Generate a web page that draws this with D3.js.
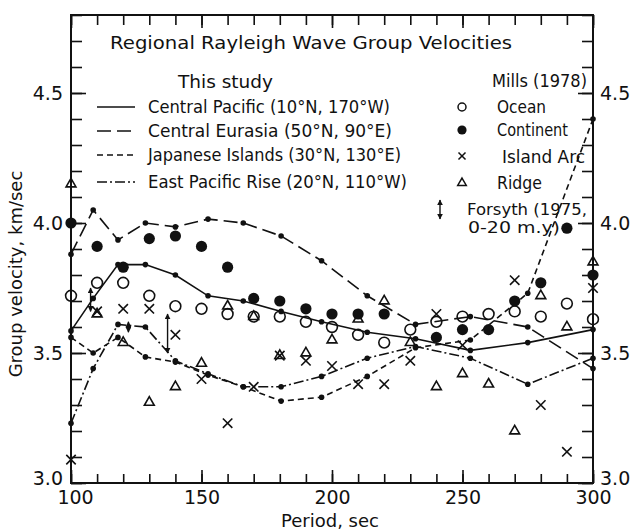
<!DOCTYPE html>
<html>
<head>
<meta charset="utf-8">
<script src="https://cdn.jsdelivr.net/npm/d3@7"></script>
<style>
  body { margin: 0; background: #fff; }
  svg { display: block; }
  text { font-family: 'DejaVu Sans', sans-serif; fill: #111; }
</style>
</head>
<body>
<div id="chart"></div>
<script>
// Chart values
const periods = [100, 108.5, 118, 128.5, 140, 152.5, 166, 180.5, 196, 213.5, 232, 253, 275, 300];
const centralPacific = [3.585, 3.71, 3.84, 3.84, 3.80, 3.72, 3.70, 3.66, 3.62, 3.58, 3.555, 3.51, 3.54, 3.59];
const centralEurasia = [3.88, 4.05, 3.935, 4.0, 3.985, 4.015, 4.0, 3.95, 3.855, 3.72, 3.61, 3.64, 3.60, 3.44];
const japaneseIslands = [3.56, 3.50, 3.56, 3.485, 3.465, 3.415, 3.37, 3.315, 3.33, 3.41, 3.52, 3.55, 3.73, 4.40];
const eastPacificRise = [3.23, 3.44, 3.61, 3.60, 3.47, 3.42, 3.37, 3.37, 3.41, 3.48, 3.525, 3.48, 3.38, 3.48];

// Mills (1978) points, every 10 s from 100 to 300
const millsPeriods = d3.range(100, 301, 10);
const ocean = [3.72, 3.77, 3.77, 3.72, 3.68, 3.67, 3.65, 3.64, 3.64, 3.62, 3.60, 3.57, 3.54, 3.59, 3.62, 3.64, 3.65, 3.66, 3.64, 3.69, 3.63];
const continent = [4.00, 3.91, 3.83, 3.94, 3.95, 3.91, 3.83, 3.71, 3.70, 3.67, 3.65, 3.65, 3.65, null, 3.56, 3.59, 3.59, 3.70, 3.77, 3.98, 3.80];
const islandArc = [3.09, 3.66, 3.67, 3.67, 3.57, 3.40, 3.23, 3.37, 3.49, 3.47, 3.45, 3.38, 3.38, 3.47, 3.65, 3.53, null, 3.78, 3.30, 3.12, 3.75];
const ridge = [4.15, 3.65, 3.54, 3.31, 3.37, 3.46, 3.68, 3.64, 3.49, 3.50, 3.55, 3.63, 3.70, 3.54, 3.37, 3.42, 3.38, 3.20, 3.72, 3.60, 3.85];

// Forsyth (1975) ranges
const forsythPeriods = [107.5, 122, 137];
const forsythLow = [3.66, 3.58, 3.50];
const forsythHigh = [3.75, 3.62, 3.65];

// Tick values
const xMajorTicks = [100, 150, 200, 250, 300];
const xMinorTicks = d3.range(100, 301, 10);
const yMajorTicks = [3.0, 3.5, 4.0, 4.5];
const yMinorTicks = d3.range(30, 49, 1).map(d => d / 10);

const width = 632, height = 531;
const plot = {left: 71, right: 593, top: 15, bottom: 483};

const svg = d3.select("#chart").append("svg")
  .attr("width", width)
  .attr("height", height);

const x = d3.scaleLinear().domain([100, 300]).range([plot.left, plot.right]);
const y = d3.scaleLinear().domain([3.0, 4.8]).range([plot.bottom, plot.top]);

// Arrowhead marker for Forsyth ranges
svg.append("defs").append("marker")
  .attr("id", "arrow")
  .attr("viewBox", "0 0 10 10")
  .attr("refX", 9)
  .attr("refY", 5)
  .attr("markerWidth", 6)
  .attr("markerHeight", 6)
  .attr("markerUnits", "userSpaceOnUse")
  .attr("orient", "auto-start-reverse")
  .append("path")
  .attr("d", "M0,0L10,5L0,10Z")
  .attr("fill", "#111");

// Axes (ticks point inward)
function styleAxis(g) {
  g.select(".domain").remove();
  g.selectAll(".tick line").attr("stroke", "#111").attr("stroke-width", 1.6);
  g.selectAll(".tick text").attr("font-size", "19px").attr("fill", "#111")
    .attr("font-family", "'DejaVu Sans', sans-serif");
}

svg.append("g").attr("transform", `translate(0,${plot.bottom})`)
  .call(d3.axisBottom(x).tickValues(xMinorTicks).tickSize(-9).tickFormat(""))
  .call(styleAxis);
svg.append("g").attr("transform", `translate(0,${plot.bottom})`)
  .call(d3.axisBottom(x).tickValues(xMajorTicks).tickSize(-13).tickPadding(8).tickFormat(d3.format("d")))
  .call(styleAxis)
  .call(g => g.selectAll(".tick text").filter(d => d === 100).attr("dx", 4));
svg.append("g").attr("transform", `translate(0,${plot.top})`)
  .call(d3.axisTop(x).tickValues(xMinorTicks).tickSize(-10).tickFormat(""))
  .call(styleAxis);
svg.append("g").attr("transform", `translate(0,${plot.top})`)
  .call(d3.axisTop(x).tickValues(xMajorTicks).tickSize(-13).tickFormat(""))
  .call(styleAxis);

// corner "3.0" labels sit a little high, clear of the period labels
const liftCorner = g => g.selectAll(".tick text").filter(d => d === 3.0).attr("dy", "0.1em");

svg.append("g").attr("transform", `translate(${plot.left},0)`)
  .call(d3.axisLeft(y).tickValues(yMinorTicks).tickSize(-11).tickFormat(""))
  .call(styleAxis);
svg.append("g").attr("transform", `translate(${plot.left},0)`)
  .call(d3.axisLeft(y).tickValues(yMajorTicks).tickSize(-15).tickPadding(8).tickFormat(d3.format(".1f")))
  .call(styleAxis)
  .call(liftCorner);
svg.append("g").attr("transform", `translate(${plot.right},0)`)
  .call(d3.axisRight(y).tickValues(yMinorTicks).tickSize(-11).tickFormat(""))
  .call(styleAxis);
svg.append("g").attr("transform", `translate(${plot.right},0)`)
  .call(d3.axisRight(y).tickValues(yMajorTicks).tickSize(-15).tickPadding(7).tickFormat(d3.format(".1f")))
  .call(styleAxis)
  .call(liftCorner);

// Frame
svg.append("rect")
  .attr("x", plot.left)
  .attr("y", plot.top)
  .attr("width", plot.right - plot.left)
  .attr("height", plot.bottom - plot.top)
  .attr("fill", "none")
  .attr("stroke", "#111")
  .attr("stroke-width", 2);

// Axis titles
svg.append("text")
  .attr("x", 330)
  .attr("y", 527)
  .attr("text-anchor", "middle")
  .attr("font-size", "18px")
  .text("Period, sec");

svg.append("text")
  .attr("transform", "translate(22,274) rotate(-90)")
  .attr("text-anchor", "middle")
  .attr("font-size", "18px")
  .text("Group velocity, km/sec");

// This study curves
const studySeries = [
  {name: "Central Pacific (10°N, 170°W)", values: centralPacific, dash: null},
  {name: "Central Eurasia (50°N, 90°E)", values: centralEurasia, dash: "14,6"},
  {name: "Japanese Islands (30°N, 130°E)", values: japaneseIslands, dash: "6,4"},
  {name: "East Pacific Rise (20°N, 110°W)", values: eastPacificRise, dash: "10,3,2,3"}
];

const line = d3.line()
  .x((d, i) => x(periods[i]))
  .y(d => y(d));

studySeries.forEach(s => {
  svg.append("path")
    .datum(s.values)
    .attr("d", line)
    .attr("fill", "none")
    .attr("stroke", "#111")
    .attr("stroke-width", 1.6)
    .attr("stroke-dasharray", s.dash);

  svg.append("g").selectAll("circle")
    .data(s.values)
    .join("circle")
    .attr("cx", (d, i) => x(periods[i]))
    .attr("cy", d => y(d))
    .attr("r", 2.8)
    .attr("fill", "#111");
});

// Mills (1978) symbols
function millsPoints(values) {
  return values.map((v, i) => ({p: millsPeriods[i], v: v})).filter(d => d.v !== null);
}

const triangle = d3.symbol().type(d3.symbolTriangle).size(42);
const cross = d3.symbol().type(d3.symbolTimes).size(60);

svg.append("g").selectAll("circle")
  .data(millsPoints(ocean))
  .join("circle")
  .attr("cx", d => x(d.p))
  .attr("cy", d => y(d.v))
  .attr("r", 5.4)
  .attr("fill", "none")
  .attr("stroke", "#111")
  .attr("stroke-width", 1.6);

svg.append("g").selectAll("circle")
  .data(millsPoints(continent))
  .join("circle")
  .attr("cx", d => x(d.p))
  .attr("cy", d => y(d.v))
  .attr("r", 5.6)
  .attr("fill", "#111");

svg.append("g").selectAll("path")
  .data(millsPoints(islandArc))
  .join("path")
  .attr("d", cross)
  .attr("transform", d => `translate(${x(d.p)},${y(d.v)})`)
  .attr("fill", "none")
  .attr("stroke", "#111")
  .attr("stroke-width", 1.6);

svg.append("g").selectAll("path")
  .data(millsPoints(ridge))
  .join("path")
  .attr("d", triangle)
  .attr("transform", d => `translate(${x(d.p)},${y(d.v)})`)
  .attr("fill", "none")
  .attr("stroke", "#111")
  .attr("stroke-width", 1.6);

// Forsyth (1975) ranges
svg.append("g").selectAll("line")
  .data(forsythPeriods)
  .join("line")
  .attr("x1", d => x(d))
  .attr("x2", d => x(d))
  .attr("y1", (d, i) => y(forsythLow[i]))
  .attr("y2", (d, i) => y(forsythHigh[i]))
  .attr("stroke", "#111")
  .attr("stroke-width", 1.4)
  .attr("marker-start", "url(#arrow)")
  .attr("marker-end", "url(#arrow)");

// Title and legend
svg.append("text")
  .attr("x", 110)
  .attr("y", 49)
  .attr("font-size", "18px")
  .attr("textLength", 402)
  .attr("lengthAdjust", "spacingAndGlyphs")
  .text("Regional Rayleigh Wave Group Velocities");

svg.append("text")
  .attr("x", 178)
  .attr("y", 88)
  .attr("font-size", "18px")
  .attr("textLength", 95)
  .attr("lengthAdjust", "spacingAndGlyphs")
  .text("This study");

svg.append("text")
  .attr("x", 492)
  .attr("y", 87)
  .attr("font-size", "18px")
  .attr("textLength", 95)
  .attr("lengthAdjust", "spacingAndGlyphs")
  .text("Mills (1978)");

const leftRows = [107, 131, 155, 182];
const leftBase = [113, 137, 161, 188];
const leftWidths = [242, 244, 253, 259];

studySeries.forEach((s, i) => {
  svg.append("line")
    .attr("x1", 97)
    .attr("x2", 135)
    .attr("y1", leftRows[i])
    .attr("y2", leftRows[i])
    .attr("stroke", "#111")
    .attr("stroke-width", 1.6)
    .attr("stroke-dasharray", s.dash);

  svg.append("text")
    .attr("x", 148)
    .attr("y", leftBase[i])
    .attr("font-size", "17px")
    .attr("textLength", leftWidths[i])
    .attr("lengthAdjust", "spacingAndGlyphs")
    .text(s.name);
});

const rightRows = [107, 130, 156, 183];
const rightBase = [113, 136, 163, 189];
const rightLabels = ["Ocean", "Continent", "Island Arc", "Ridge"];
const rightX = [497, 497, 502, 497];
const rightWidths = [49, 71, 83, 45];

svg.append("circle")
  .attr("cx", 462).attr("cy", rightRows[0]).attr("r", 4)
  .attr("fill", "none").attr("stroke", "#111").attr("stroke-width", 1.5);
svg.append("circle")
  .attr("cx", 462).attr("cy", rightRows[1]).attr("r", 4.6)
  .attr("fill", "#111");
svg.append("path")
  .attr("d", d3.symbol().type(d3.symbolTimes).size(34))
  .attr("transform", `translate(462,${rightRows[2]})`)
  .attr("fill", "none").attr("stroke", "#111").attr("stroke-width", 1.5);
svg.append("path")
  .attr("d", d3.symbol().type(d3.symbolTriangle).size(32))
  .attr("transform", `translate(462,${rightRows[3]})`)
  .attr("fill", "none").attr("stroke", "#111").attr("stroke-width", 1.5);

rightLabels.forEach((t, i) => {
  svg.append("text")
    .attr("x", rightX[i])
    .attr("y", rightBase[i])
    .attr("font-size", "17px")
    .attr("textLength", rightWidths[i])
    .attr("lengthAdjust", "spacingAndGlyphs")
    .text(t);
});

svg.append("line")
  .attr("x1", 440).attr("x2", 440)
  .attr("y1", 219).attr("y2", 200)
  .attr("stroke", "#111")
  .attr("stroke-width", 1.4)
  .attr("marker-start", "url(#arrow)")
  .attr("marker-end", "url(#arrow)");

svg.append("text")
  .attr("x", 467)
  .attr("y", 215)
  .attr("font-size", "16px")
  .attr("textLength", 120)
  .attr("lengthAdjust", "spacingAndGlyphs")
  .text("Forsyth (1975,");

svg.append("text")
  .attr("x", 468)
  .attr("y", 233)
  .attr("font-size", "16px")
  .attr("textLength", 92)
  .attr("lengthAdjust", "spacingAndGlyphs")
  .text("0-20 m.y)");
</script>
</body>
</html>
